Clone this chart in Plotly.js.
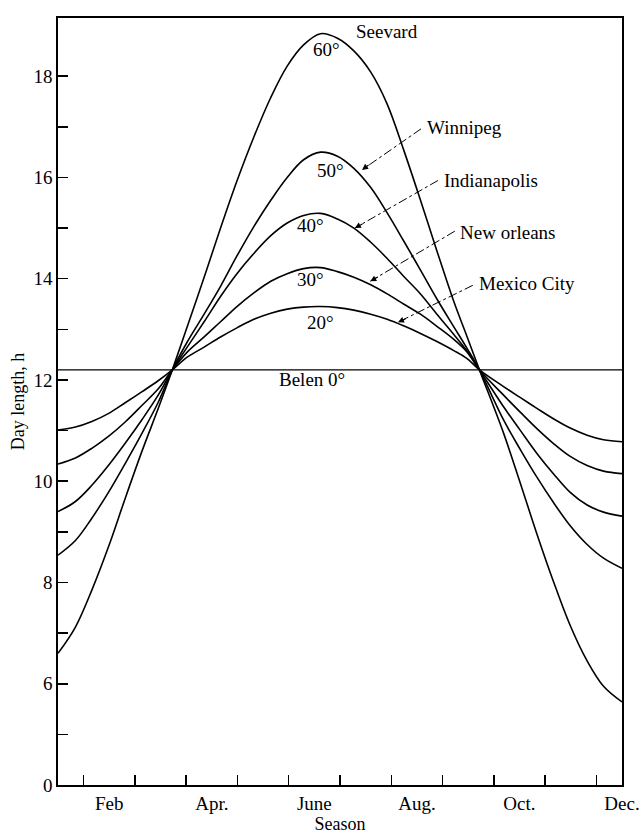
<!DOCTYPE html>
<html>
<head>
<meta charset="utf-8">
<script src="https://cdn.plot.ly/plotly-3.0.1.min.js"></script>
<style>html,body{margin:0;padding:0;background:#fff;}#chart{width:641px;height:836px;}</style>
</head>
<body>
<div id="chart"></div>
<script>
// Position in the year, in months (0 = 1 January, 11.5 = mid-December)
const monthPos = [0.50, 0.84, 1.16, 1.49, 1.81, 2.14, 2.46, 2.73, 3.02, 3.35, 3.67, 3.99, 4.32, 4.65, 4.97, 5.29, 5.62,
                  5.95, 6.27, 6.60, 6.92, 7.24, 7.57, 7.89, 8.22, 8.48, 8.72, 9.19, 9.52, 9.84, 10.17, 10.49, 10.82, 11.14, 11.50];

// Day length (hours) for each latitude
const lat20 = [11.01, 11.07, 11.18, 11.34, 11.55, 11.77, 11.99, 12.20, 12.45, 12.65, 12.85, 13.03, 13.20, 13.32, 13.40, 13.44, 13.45,
               13.43, 13.38, 13.30, 13.20, 13.07, 12.92, 12.76, 12.58, 12.42, 12.20, 11.87, 11.65, 11.44, 11.23, 11.05, 10.91, 10.82, 10.78];
const lat30 = [10.34, 10.46, 10.65, 10.89, 11.17, 11.50, 11.83, 12.20, 12.55, 12.85, 13.15, 13.45, 13.72, 13.95, 14.10, 14.20, 14.22,
               14.14, 14.03, 13.88, 13.70, 13.50, 13.30, 13.06, 12.80, 12.55, 12.20, 11.70, 11.36, 11.04, 10.74, 10.49, 10.31, 10.20, 10.15];
const lat40 = [9.40, 9.60, 9.92, 10.32, 10.75, 11.22, 11.71, 12.20, 12.65, 13.15, 13.65, 14.10, 14.50, 14.85, 15.10, 15.25, 15.29,
               15.18, 15.00, 14.72, 14.40, 14.05, 13.70, 13.30, 12.90, 12.57, 12.20, 11.47, 11.00, 10.55, 10.14, 9.78, 9.53, 9.39, 9.31];
const lat50 = [8.54, 8.83, 9.27, 9.79, 10.35, 10.95, 11.57, 12.20, 12.75, 13.30, 13.85, 14.45, 15.03, 15.55, 16.00, 16.35, 16.50,
               16.42, 16.18, 15.80, 15.30, 14.75, 14.17, 13.60, 13.05, 12.62, 12.20, 11.21, 10.62, 10.08, 9.57, 9.12, 8.75, 8.48, 8.28];
const lat60 = [6.60, 7.12, 7.85, 8.72, 9.66, 10.60, 11.45, 12.20, 13.05, 14.03, 15.00, 15.93, 16.80, 17.58, 18.20, 18.62, 18.84,
               18.75, 18.50, 18.08, 17.45, 16.55, 15.55, 14.55, 13.55, 12.85, 12.20, 10.95, 9.95, 8.96, 8.00, 7.15, 6.45, 5.95, 5.64];
// Equator (Belen 0°)
const equatorPos = [0.5, 11.5];
const lat0 = [12.2, 12.2];

// Axis ticks
const monthTickPos = [1.5, 3.5, 5.5, 7.5, 9.5, 11.5];
const monthTickText = ['Feb', 'Apr.', 'June', 'Aug.', 'Oct.', 'Dec.'];
const monthBoundaries = [1, 2, 3, 4, 5, 6, 7, 8, 9, 10, 11];
const hourTickPos = [4, 5, 6, 7, 8, 9, 10, 11, 12, 13, 14, 15, 16, 17, 18];
const hourTickText = ['0', '', '6', '', '8', '', '10', '', '12', '', '14', '', '16', '', '18']; // broken axis: 0 shown at the base

const serif = 'Liberation Serif, Times New Roman, serif';
const lineStyle = {color: '#000', width: 1.6, shape: 'spline', smoothing: 1};

const series = [
  {name: '20°', y: lat20}, {name: '30°', y: lat30}, {name: '40°', y: lat40},
  {name: '50°', y: lat50}, {name: '60°', y: lat60}
];
const traces = series.map(s => ({
  type: 'scatter', mode: 'lines', x: monthPos, y: s.y, name: s.name,
  line: lineStyle, hoverinfo: 'skip'
}));
traces.push({type: 'scatter', mode: 'lines', x: equatorPos, y: lat0, name: 'Belen 0°',
  line: {color: '#000', width: 1.1}, hoverinfo: 'skip'});

// Labels and leaders
const labelFont = {family: serif, size: 19, color: '#000'};
const textLabels = [
  {t: 'Seevard', x: 6.92, y: 18.89},
  {t: '60°', x: 5.73, y: 18.52},
  {t: '50°', x: 5.81, y: 16.13},
  {t: '40°', x: 5.42, y: 15.06},
  {t: '30°', x: 5.42, y: 13.99},
  {t: '20°', x: 5.61, y: 13.14},
  {t: 'Belen 0°', x: 5.45, y: 12.0}
];
const cityLabels = [
  {t: 'Winnipeg',     x: 7.66, y: 16.98, sx: 7.58, sy: 16.96, ex: 6.43, ey: 16.15, ax: 8, ay: -6},
  {t: 'Indianapolis', x: 7.99, y: 15.94, sx: 7.91, sy: 15.94, ex: 6.29, ey: 15.00, ax: 9, ay: -5},
  {t: 'New orleans',  x: 8.30, y: 14.92, sx: 8.24, sy: 14.94, ex: 6.59, ey: 13.95, ax: 9, ay: -5},
  {t: 'Mexico City',  x: 8.67, y: 13.90, sx: 8.59, sy: 13.87, ex: 7.13, ey: 13.14, ax: 9, ay: -4}
];

const annotations = [];
textLabels.forEach(l => annotations.push({x: l.x, y: l.y, xref: 'x', yref: 'y', text: l.t,
  showarrow: false, font: labelFont, xanchor: 'center', yanchor: 'middle'}));
cityLabels.forEach(l => {
  annotations.push({x: l.x, y: l.y, xref: 'x', yref: 'y', text: l.t, showarrow: false,
    font: labelFont, xanchor: 'left', yanchor: 'middle'});
  annotations.push({x: l.ex, y: l.ey, xref: 'x', yref: 'y', text: '', showarrow: true,
    ax: l.ax, ay: l.ay, arrowhead: 2, arrowsize: 1.1, arrowwidth: 1.1, arrowcolor: '#000'});
});
const shapes = cityLabels.map(l => ({type: 'line', xref: 'x', yref: 'y',
  x0: l.sx, y0: l.sy, x1: l.ex, y1: l.ey, line: {color: '#000', width: 1, dash: 'dashdot'}}));

const layout = {
  width: 641, height: 836,
  margin: {l: 58, r: 19, t: 18, b: 51},
  paper_bgcolor: '#fff', plot_bgcolor: '#fff',
  showlegend: false,
  font: {family: serif, color: '#000', size: 19},
  xaxis: {
    range: [0.5, 11.5], showgrid: false, zeroline: false,
    showline: true, linecolor: '#000', linewidth: 1.8, mirror: true,
    tickmode: 'array', tickvals: monthTickPos, ticktext: monthTickText, ticks: '',
    tickfont: {family: serif, size: 19, color: '#000'},
    minor: {tickmode: 'array', tickvals: monthBoundaries, ticks: 'inside', ticklen: 10,
            tickwidth: 1.5, tickcolor: '#000', showgrid: false},
    title: {text: 'Season', font: {family: serif, size: 18, color: '#000'}, standoff: 2}
  },
  yaxis: {
    range: [4, 19.15], showgrid: false, zeroline: false,
    showline: true, linecolor: '#000', linewidth: 1.8, mirror: true,
    tickmode: 'array', tickvals: hourTickPos, ticktext: hourTickText,
    ticks: 'inside', ticklen: 10, tickwidth: 1.5, tickcolor: '#000',
    tickfont: {family: serif, size: 19, color: '#000'},
    title: {text: 'Day length, h', font: {family: serif, size: 18, color: '#000'}, standoff: 4}
  },
  annotations: annotations,
  shapes: shapes
};

Plotly.newPlot('chart', traces, layout, {displayModeBar: false, staticPlot: true});
</script>
</body>
</html>
